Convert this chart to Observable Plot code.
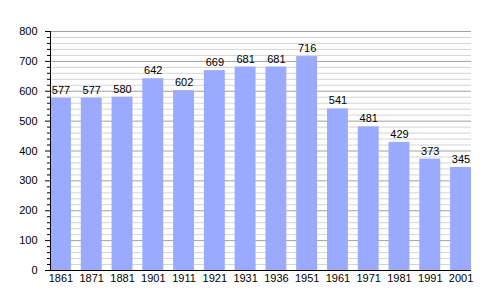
<!DOCTYPE html>
<html><head><meta charset="utf-8">
<script src="https://cdn.jsdelivr.net/npm/d3@7"></script>
<script src="https://cdn.jsdelivr.net/npm/@observablehq/plot@0.6"></script>
<style>body{margin:0;background:#fff;} svg{font-family:"Liberation Sans",Arial,sans-serif;}</style>
</head><body><div id="chart"></div>
<script>
const years = ["1861","1871","1881","1901","1911","1921","1931","1936","1951","1961","1971","1981","1991","2001"];
const population = [577,577,580,642,602,669,681,681,716,541,481,429,373,345];
const majorTicks = [0,100,200,300,400,500,600,700,800];
const minorTicks = d3.range(0, 801, 20).filter(v => v % 100 !== 0);

const data = years.map((y, i) => ({year: y, value: population[i]}));

const chart = Plot.plot({
  width: 500, height: 300,
  marginLeft: 50, marginRight: 29, marginTop: 31, marginBottom: 30,
  style: {fontFamily: '"Liberation Sans", Arial, sans-serif', fontSize: "11px", background: "#fff", color: "#000"},
  x: {domain: years, paddingInner: 0.32, paddingOuter: 0, round: false, label: null},
  y: {domain: [0, 800], label: null},
  marks: [
    Plot.gridY(minorTicks, {stroke: "#d4d4d4", strokeOpacity: 1}),
    Plot.gridY(majorTicks, {stroke: "#a0a0a0", strokeOpacity: 1}),
    Plot.barY(data, {x: "year", y: "value", fill: "#99aaff"}),
    Plot.text(data, {x: "year", y: "value", text: d => String(d.value), dy: -8, fill: "#000", fontSize: 11}),
    Plot.axisY(minorTicks, {tickSize: 3, text: null, stroke: "#000"}),
    Plot.axisY(majorTicks, {tickSize: 5, tickPadding: 8, stroke: "#000", fontSize: 11}),
    Plot.axisX({tickSize: 0, tickPadding: 4, fontSize: 11}),
    Plot.ruleY([0], {stroke: "#000"}),
    Plot.frame({anchor: "left", stroke: "#000"})
  ]
});
document.getElementById("chart").appendChild(chart);
</script></body></html>
